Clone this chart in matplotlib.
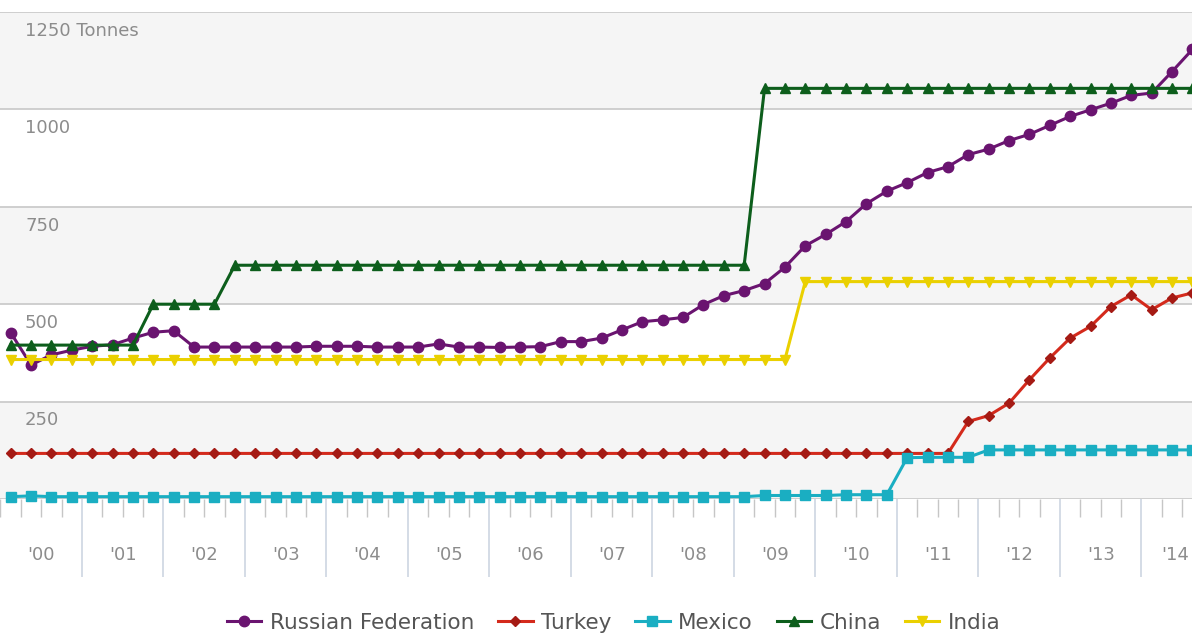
import numpy as np
import matplotlib
matplotlib.use("Agg")
import matplotlib.pyplot as plt
import matplotlib.transforms as mtransforms

plt.rcParams['font.family'] = ['DejaVu Sans']

# quarterly gold holdings, 2000 Q1 .. 2014 Q3 (tonnes)
quarters = 2000.125 + 0.25 * np.arange(59)

russia = [427, 344, 370, 382, 392, 396, 413, 428, 432, 390,
          390, 390, 390, 390, 390, 392, 392, 392, 390, 390,
          390, 398, 390, 390, 389, 390, 391, 404, 404, 413,
          434, 455, 460, 466, 499, 522, 535, 553, 595, 650,
          679, 712, 758, 790, 812, 838, 853, 884, 898, 920,
          936, 959, 982, 999, 1016, 1036, 1042, 1097, 1154]
turkey = [117] * 47 + [199, 214, 246, 306, 362, 413, 443, 494, 524, 486, 516, 529]
mexico = ([6, 8] + [6] * 35 + [9, 9, 9, 9, 11, 11, 11]
          + [106, 107, 107, 107] + [126] * 11)
china = [395] * 7 + [500] * 4 + [600] * 26 + [1054] * 22
india = [358] * 39 + [558] * 20

series_names = ['Russian Federation', 'Turkey', 'Mexico', 'China', 'India']
series_colors = ['#6a1470', '#d42a1c', '#1aaec2', '#0d5e1c', '#ead000']
marker_colors = ['#6a1470', '#a51a14', '#1aaec2', '#0d5e1c', '#ead000']
series_markers = ['o', 'D', 's', '^', 'v']
marker_sizes = [7.5, 5.5, 7.5, 7.5, 7]

y_ticks = [250, 500, 750, 1000, 1250]
y_labels = ['250', '500', '750', '1000', '1250 Tonnes']
years = list(range(2000, 2015))
year_labels = ["'%02d" % (y % 100) for y in years]

fig = plt.figure(figsize=(11.92, 6.35), dpi=100)
ax = fig.add_axes([0, 136 / 635, 1, 487 / 635])

# alternating bands between the gridlines
edges = [0] + y_ticks
for k in range(len(edges) - 1):
    col = '#f5f5f5' if k % 2 == 0 else 'white'
    ax.axhspan(edges[k], edges[k + 1], color=col, lw=0, zorder=0)
for v in y_ticks:
    ax.axhline(v, color='#cbcbcb', lw=1.3, zorder=1)
ax.axhline(0, color='#cbcbcb', lw=1.3, zorder=1)

data = [russia, turkey, mexico, china, india]
for vals, name, c, mc, m, ms in zip(data, series_names, series_colors,
                                    marker_colors, series_markers, marker_sizes):
    ax.plot(quarters, vals, color=c, lw=2.2, marker=m, markersize=ms,
            markerfacecolor=mc, markeredgecolor=mc, label=name,
            clip_on=False, zorder=3)

ax.set_xlim(1999.994, 2014.62)
ax.set_ylim(0, 1250)
for s in ax.spines.values():
    s.set_visible(False)
ax.set_yticks([])

# year boundaries as long ticks, quarters as short ones
ax.set_xticks(years[1:])
ax.set_xticklabels([])
ax.set_xticks(np.arange(2000, 2014.75, 0.25), minor=True)
ax.tick_params(axis='x', which='major', length=56, width=1.2, color='#cdd6e2')
ax.tick_params(axis='x', which='minor', length=13, width=1, color='#c6c6c6')

trans = mtransforms.blended_transform_factory(ax.transData, ax.transAxes)
for y, lab in zip(years[:-1], year_labels[:-1]):
    ax.text(y + 0.5, -0.115, lab, transform=trans, ha='center', va='center',
            fontsize=13, color='#8c8c8c')
# last year label pulled inside the right edge
ax.text(0.998, -0.115, year_labels[-1], transform=ax.transAxes, ha='right',
        va='center', fontsize=13, color='#8c8c8c')

trans_y = mtransforms.blended_transform_factory(ax.transAxes, ax.transData)
for v, lab in zip(y_ticks, y_labels):
    ax.annotate(lab, xy=(0.021, v), xycoords=trans_y, xytext=(0, -7),
                textcoords='offset points', ha='left', va='top',
                fontsize=13, color='#8c8c8c')

fig.legend(loc='lower center', bbox_to_anchor=(0.515, -0.027), ncol=5,
           frameon=False, fontsize=15.5, handlelength=1.6, columnspacing=1.1,
           handletextpad=0.4, labelcolor='#555555')

fig.savefig('out.png', dpi=100, facecolor='white')
